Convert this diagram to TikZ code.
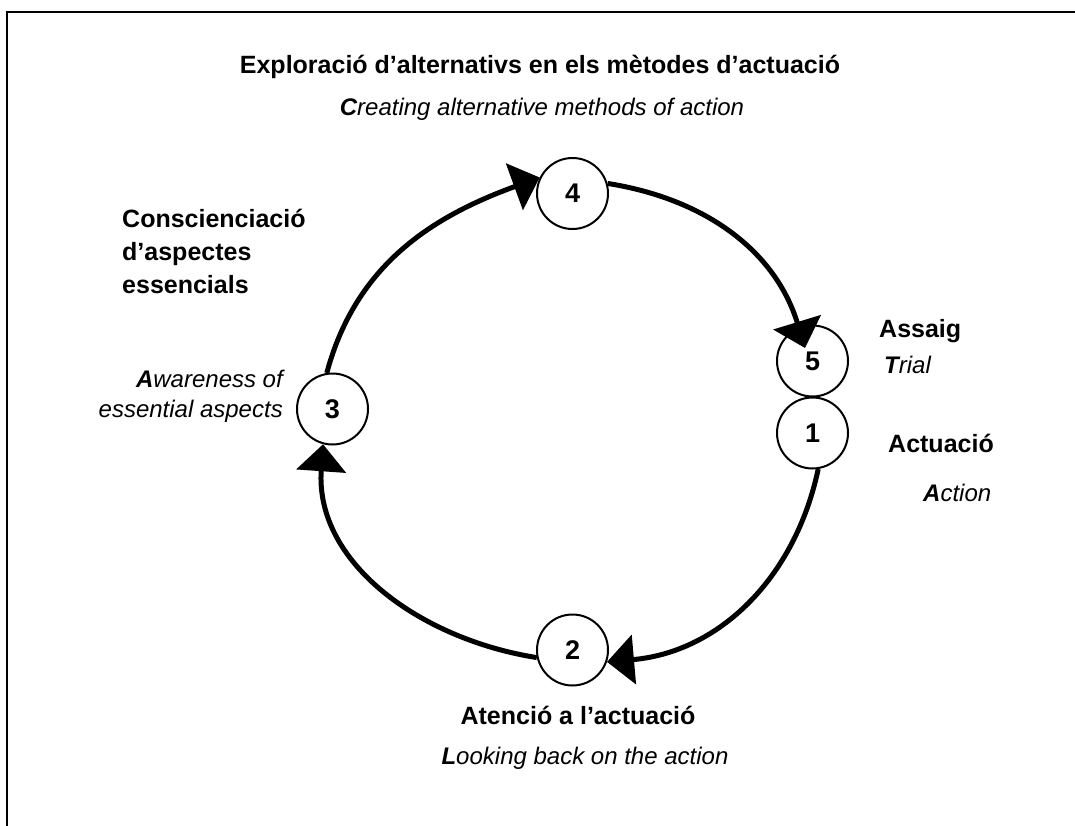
\documentclass[tikz,border=0pt]{standalone}
\usepackage{fontspec}
\setmainfont{Liberation Sans}
\usetikzlibrary{arrows.meta}
\begin{document}
\begin{tikzpicture}[x=1pt,y=1pt,
  num/.style={circle,draw,line width=2pt,fill=white,minimum size=71pt,inner sep=0pt,font=\fontsize{27}{30}\selectfont\bfseries},
  conn/.style={line width=5pt,-{Triangle[length=27pt,width=49pt]}},
  bl/.style={inner sep=0pt,font=\fontsize{25}{33}\selectfont\bfseries},
  it/.style={inner sep=0pt,font=\fontsize{24}{30}\selectfont\itshape}]
\useasboundingbox (0,-826) rectangle (1075,0);
\coordinate (fa) at (7,-826);
\coordinate (fb) at (7,-12);
\coordinate (fc) at (1075,-12);
\draw[line width=2.5pt] (fa) -- (fb) -- (fc);

\node[num] (n4) at (572.5,-193.5) {4};
\node[num] (n5) at (812.5,-361) {5};
\node[num] (n1) at (812.5,-433) {1};
\node[num] (n3) at (332.5,-409) {3};
\node[num] (n2) at (572.5,-650) {2};

\coordinate (t5) at (805,-348);
\draw[conn] (n1.-81) to[out=-102,in=5] (n2.-19);
\draw[conn] (n2.192) to[out=171,in=266] (n3.255);
\draw[conn] (n3.99) to[out=75,in=200] (n4.154);
\draw[conn] (n4.16) to[out=-9,in=107] (t5);

\node[bl] (t4) at (540,-67) {Exploració d’alternativs en els mètodes d’actuació};
\node[it] (e4) at (542,-109) {\textbf{C}reating alternative methods of action};
\node[bl,align=left,anchor=west] (t3) at (122,-251) {Conscienciació\\d’aspectes\\essencials};
\node[it,align=right,anchor=east] (e3) at (283,-396) {\textbf{A}wareness of\\essential aspects};
\node[bl,anchor=west] (l5) at (879,-331) {Assaig};
\node[it,anchor=west] (e5) at (884,-365) {\textbf{T}rial};
\node[bl,anchor=west] (l1) at (888,-443) {Actuació};
\node[it,anchor=west] (e1) at (923,-493) {\textbf{A}ction};
\node[bl] (t2) at (578,-715) {Atenció a l’actuació};
\node[it] (e2) at (585,-758) {\textbf{L}ooking back on the action};
\end{tikzpicture}
\end{document}
